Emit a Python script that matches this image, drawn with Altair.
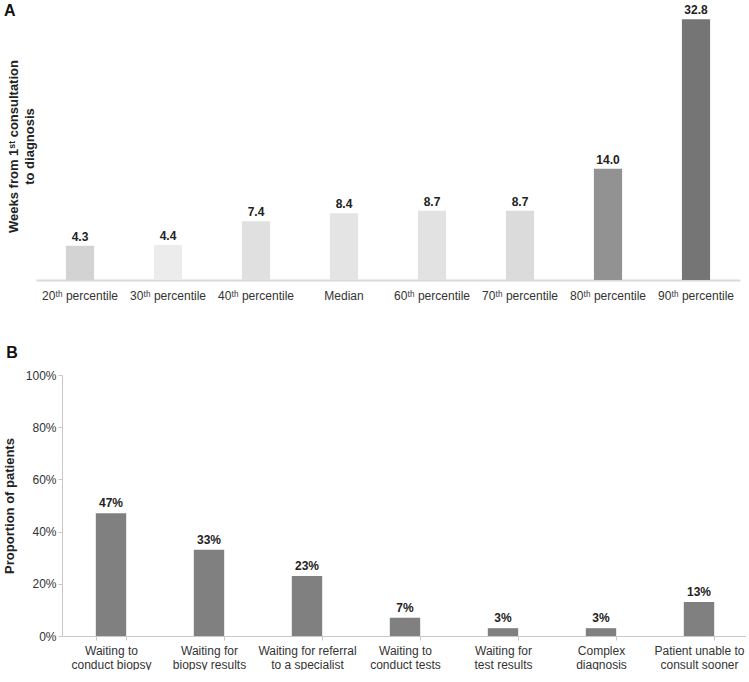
import altair as alt
import pandas as pd

# Panel A data
pct_labels = ["20ᵗʰ percentile", "30ᵗʰ percentile", "40ᵗʰ percentile", "Median",
              "60ᵗʰ percentile", "70ᵗʰ percentile", "80ᵗʰ percentile", "90ᵗʰ percentile"]
weeks = [4.3, 4.4, 7.4, 8.4, 8.7, 8.7, 14.0, 32.8]
bar_colors_a = ["#d3d3d3", "#ececec", "#e0e0e0", "#e4e4e4", "#e2e2e2", "#dbdbdb", "#929292", "#757575"]

# Panel B data
reasons = ["Waiting to|conduct biopsy", "Waiting for|biopsy results", "Waiting for referral|to a specialist",
           "Waiting to|conduct tests", "Waiting for|test results", "Complex|diagnosis",
           "Patient unable to|consult sooner"]
proportions = [0.47, 0.33, 0.23, 0.07, 0.03, 0.03, 0.13]

FONT = "Liberation Sans"

df_a = pd.DataFrame({"cat": pct_labels, "weeks": weeks, "color": bar_colors_a})
df_a["lbl"] = df_a["weeks"].map(lambda v: f"{v:.1f}")

df_b = pd.DataFrame({"cat": reasons, "prop": proportions})
df_b["lbl"] = df_b["prop"].map(lambda v: f"{round(v*100)}%")

xa = alt.X("cat:N", sort=pct_labels,
           scale=alt.Scale(paddingInner=0.68, paddingOuter=0.34),
           axis=alt.Axis(title=None, labelAngle=0, ticks=False, domainColor="#d9d9d9",
                         domainWidth=2, labelFontSize=12, labelColor="#333333",
                         labelPadding=10, labelFont=FONT))
ya = alt.Y("weeks:Q", scale=alt.Scale(domain=[0, 33.7], nice=False),
           axis=alt.Axis(labels=False, ticks=False, domain=False, grid=False,
                         title=["Weeks from 1ˢᵗ consultation", "to diagnosis"],
                         titleFontSize=13, titleFontWeight="bold", titleColor="#222222",
                         titleFont=FONT, titleLineHeight=16, titlePadding=0))

bars_a = alt.Chart(df_a).mark_bar().encode(
    x=xa, y=ya, color=alt.Color("color:N", scale=None))
text_a = alt.Chart(df_a).mark_text(dy=-9, fontSize=12, fontWeight="bold", color="#222222", font=FONT).encode(
    x=alt.X("cat:N", sort=pct_labels), y="weeks:Q", text="lbl:N")
chart_a = alt.layer(bars_a, text_a).properties(
    width=704, height=268,
    title=alt.TitleParams("A", anchor="start", frame="bounds", fontSize=16, fontWeight="bold",
                          font=FONT, color="#111111", offset=-15, dx=-3))

# panel B's plot starts right of panel A's: its band range and y axis are shifted inwards
xb = alt.X("cat:N", sort=reasons,
           scale=alt.Scale(paddingInner=0.69, paddingOuter=0.345, range=[26, 712]),
           axis=alt.Axis(title=None, labelAngle=0, tickBand="extent", tickSize=4,
                         tickColor="#c8c8c8", domainColor="#c8c8c8", labelFontSize=12,
                         labelColor="#333333", labelPadding=5, labelFont=FONT,
                         labelLineHeight=14,
                         labelExpr="split(datum.label, '|')"))
yb = alt.Y("prop:Q", scale=alt.Scale(domain=[0, 1], nice=False),
           axis=alt.Axis(format=".0%", values=[0, 0.2, 0.4, 0.6, 0.8, 1.0], grid=False,
                         offset=-26,
                         tickSize=4, tickColor="#c8c8c8", domainColor="#c8c8c8",
                         labelFontSize=12, labelColor="#333333", labelPadding=2, labelFont=FONT,
                         title="Proportion of patients", titleFontSize=13, titleFontWeight="bold",
                         titleColor="#222222", titleFont=FONT, titlePadding=9))
bars_b = alt.Chart(df_b).mark_bar(color="#808080").encode(x=xb, y=yb)
text_b = alt.Chart(df_b).mark_text(dy=-10, fontSize=12, fontWeight="bold", color="#222222", font=FONT).encode(
    x=alt.X("cat:N", sort=reasons), y="prop:Q", text="lbl:N")
chart_b = alt.layer(bars_b, text_b).properties(
    width=686, height=261,
    title=alt.TitleParams("B", anchor="start", frame="bounds", fontSize=16, fontWeight="bold",
                          font=FONT, color="#111111", offset=8, dx=3))

chart = alt.vconcat(chart_a, chart_b, spacing=44).properties(
    padding={"left": 3, "top": 3, "right": 1, "bottom": 0}, background="white"
).configure_view(strokeWidth=0)

chart.save("out.html", embed_options={"renderer": "svg", "actions": False})
